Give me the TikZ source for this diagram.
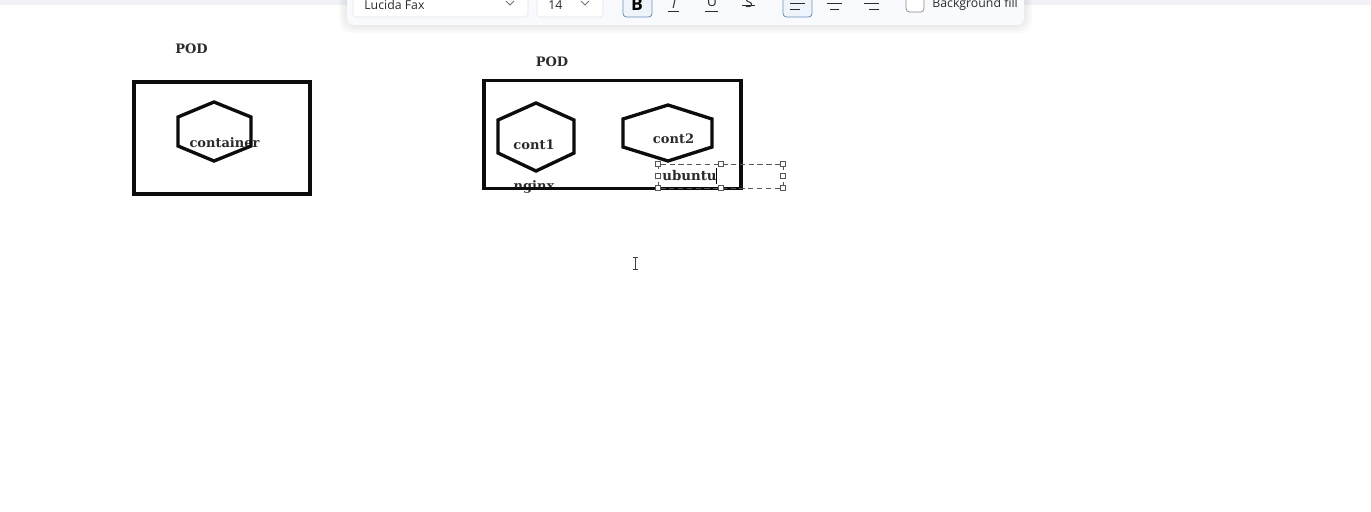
\documentclass[tikz,border=0pt]{standalone}
\usepackage{fontspec}
\setmainfont{DejaVu Serif}
\newfontfamily\uifont{Open Sans}
\usetikzlibrary{positioning}
\definecolor{inkblack}{HTML}{0C0C0C}
\definecolor{labelgray}{HTML}{2B2B2B}
\definecolor{barblue}{HTML}{F1F1F8}
\definecolor{panelblue}{HTML}{F8FAFD}
\definecolor{activeblue}{HTML}{EFF4FB}
\definecolor{activeedge}{HTML}{6C93BE}
\definecolor{editgray}{HTML}{555555}
\tikzset{
  boxline/.style={draw=inkblack, line width=1.9pt},
  hexline/.style={draw=inkblack, line width=1.9pt, line join=miter},
  lbl/.style={inner sep=0pt, text=labelgray, font=\fontsize{7.4}{9}\selectfont\bfseries},
  uilbl/.style={inner sep=0pt, text=labelgray, font=\fontsize{7}{9}\selectfont\uifont},
  handle/.style={draw=editgray, fill=white, line width=.35pt, inner sep=0pt, minimum size=3pt},
  uibox/.style={draw=black!10, fill=white, line width=.3pt, rounded corners=2pt},
  uiline/.style={draw=labelgray, line width=.55pt},
}
\begin{document}
\begin{tikzpicture}[x=0.02cm,y=-0.02cm]
  \useasboundingbox (0,0) rectangle (1371,511);
  \clip (0,0) rectangle (1371,511);
  \fill[white] (0,0) rectangle (1371,511);
  \fill[barblue] (0,0) rectangle (1371,5);

  % toolbar
  \foreach \grow in {8,6,4,2}
    \fill[black, opacity=.018, rounded corners=7pt] (347-\grow,-10) rectangle (1024+\grow,25+\grow);
  \fill[panelblue, rounded corners=4pt] (347,-10) rectangle (1024,25);
  \draw[uibox] (353,-10) rectangle (528,17);
  \draw[uibox] (537,-10) rectangle (603,17);
  \draw[draw=activeedge, fill=activeblue, line width=.5pt, rounded corners=2pt] (623,-10) rectangle (652,17);
  \draw[draw=activeedge, fill=activeblue, line width=.5pt, rounded corners=2pt] (783,-10) rectangle (812,17);
  \draw[draw=black!45, fill=white, line width=.4pt, rounded corners=2pt] (906,-10) rectangle (924,12);
  \node[uilbl, anchor=west] (fontname) at (364,5) {Lucida Fax};
  \node[uilbl, anchor=west] (fontsize) at (548,5) {14};
  \node[uilbl, anchor=west] (bgfill) at (932,4) {Background fill};
  \node[uilbl, font=\fontsize{10}{12}\selectfont\uifont\bfseries, text=black] (boldbtn) at (637,4) {B};
  \node[uilbl, font=\fontsize{8}{10}\selectfont\uifont\itshape] (italicbtn) at (674,3) {I};
  \node[uilbl, font=\fontsize{8}{10}\selectfont\uifont] (underbtn) at (712,2) {U};
  \node[uilbl, font=\fontsize{8}{10}\selectfont\uifont] (strikebtn) at (749,2) {S};
  \draw[uiline] (705,11) -- (718,11);
  \draw[uiline] (742,5) -- (755,5);
  \draw[uiline] (668,11) -- (679,11);
  \foreach \cx in {510,585}
    \draw[uiline, draw=black!55] (\cx-4,1) -- (\cx,5) -- (\cx+4,1);
  \foreach \ax/\bx/\cx/\dx in {790/805/790/800, 827/842/830/839, 864/879/869/879}{
    \draw[uiline] (\ax,3) -- (\bx,3);
    \draw[uiline] (\cx,9) -- (\dx,9);
  }

  % first pod
  \node[lbl] (pod1) at (191.5,48.5) {POD};
  \node[lbl] (contA) at (224.5,142.5) {container};
  \draw[boxline] (134,82) rectangle (310,194);
  \draw[hexline] (214,102) -- (251,117) -- (251,146) -- (214,161) -- (178,146) -- (178,117) -- cycle;

  % second pod
  \node[lbl] (pod2) at (552,61.5) {POD};
  \node[lbl] (cont1) at (534,145) {cont1};
  \node[lbl] (cont2) at (673.5,139) {cont2};
  \node[lbl] (img1) at (534,186.5) {nginx};
  \draw[boxline] (484,80.5) rectangle (741,188.5);
  \draw[hexline] (536,103) -- (574,120) -- (574,153) -- (536,171) -- (498,153) -- (498,120) -- cycle;
  \draw[hexline] (668,105) -- (712,119) -- (712,147) -- (668,161) -- (623,147) -- (623,119) -- cycle;

  % text being edited
  \draw[editgray, densely dashed, line width=.4pt] (658,164) rectangle (783,188);
  \foreach \hx/\hy/\hname in {658/164/ha, 721/164/hb, 783/164/hc, 658/176/hd, 783/176/he, 658/188/hf, 721/188/hg, 783/188/hh}
    \node[handle] (\hname) at (\hx,\hy) {};
  \node[lbl, anchor=west, font=\fontsize{7.6}{10}\selectfont\bfseries] (img2) at (662,176) {ubuntu};
  \coordinate (caretA) at (716.5,168);
  \coordinate (caretB) at (716.5,184);
  \draw[black, line width=.4pt] (caretA) -- (caretB);

  % mouse cursor
  \coordinate (beamA) at (635,258);
  \coordinate (beamB) at (635,269);
  \draw[black!75, line width=.45pt] (beamA) -- (beamB);
  \draw[black!75, line width=.45pt] (632.5,257.5) -- (637.5,257.5) (632.5,269.5) -- (637.5,269.5);
\end{tikzpicture}
\end{document}
